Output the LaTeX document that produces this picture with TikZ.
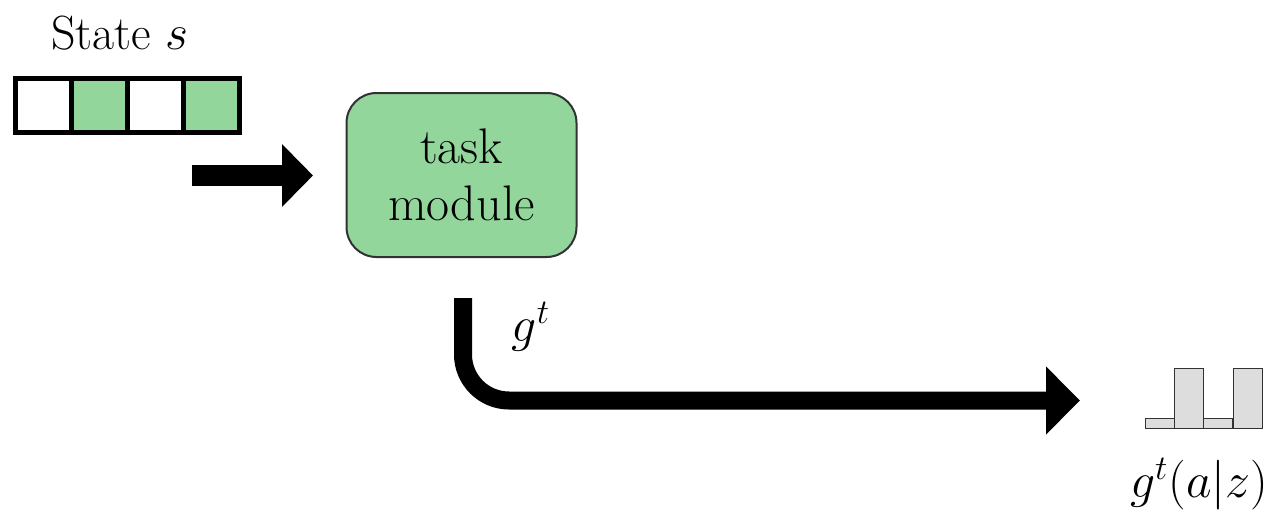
\documentclass[tikz,border=0pt]{standalone}
\usetikzlibrary{arrows.meta}
\definecolor{cellgreen}{RGB}{146,214,155}
\definecolor{bargray}{RGB}{221,221,221}
\definecolor{edgegray}{RGB}{50,50,50}
\begin{document}
\begin{tikzpicture}[x=0.5pt,y=-0.5pt,
  lbl/.style={inner sep=0pt, font=\fontsize{24}{28.5}\selectfont},
  mathlbl/.style={inner sep=0pt, font=\fontsize{27}{30}\selectfont},
  cell/.style={draw=black, line width=2.5pt, minimum width=28pt, minimum height=27pt,
               inner sep=0pt, outer sep=0pt},
  taskbox/.style={draw=edgegray, line width=1pt, fill=cellgreen, rounded corners=15pt,
               minimum width=115pt, minimum height=82pt, align=center, inner sep=0pt,
               font=\fontsize{25}{28.5}\selectfont},
  bar/.style={draw=edgegray, line width=0.5pt, fill=bargray, minimum width=14.5pt,
               inner sep=0pt, outer sep=0pt, anchor=south west},
  flowsmall/.style={line width=10.5pt, -{Triangle[length=15.5pt,width=30.5pt]}},
  flowbig/.style={line width=9pt, rounded corners=23pt, -{Triangle[length=17pt,width=33pt]}}
]
\useasboundingbox (0,0) rectangle (1284,514);

% state vector
\node[lbl] (statelbl) at (120,33) {State $s$};
\node[cell, fill=white]     (c1) at (43.5,105.5) {};
\node[cell, fill=cellgreen] (c2) at (99.5,105.5) {};
\node[cell, fill=white]     (c3) at (155.5,105.5) {};
\node[cell, fill=cellgreen] (c4) at (211.5,105.5) {};

% task module
\node[taskbox] (task) at (461.5,175) {task\\module};

% input arrow
\coordinate (inA) at (192,175.5);
\coordinate (inB) at (313,175.5);
\draw[flowsmall] (inA) -- (inB);

% output arrow
\coordinate (outA) at (463,298);
\coordinate (outB) at (1080,400.5);
\draw[flowbig] (outA) |- (outB);
\node[mathlbl] (glbl) at (531,327) {$g^t$};

% output distribution
\node[bar, minimum height=5pt]  (b1) at (1145,428) {};
\node[bar, minimum height=30pt] (b2) at (1174,428) {};
\node[bar, minimum height=5pt]  (b3) at (1203.5,428) {};
\node[bar, minimum height=30pt] (b4) at (1233,428) {};
\node[mathlbl] (distlbl) at (1199,484) {$g^t(a|z)$};
\end{tikzpicture}
\end{document}
